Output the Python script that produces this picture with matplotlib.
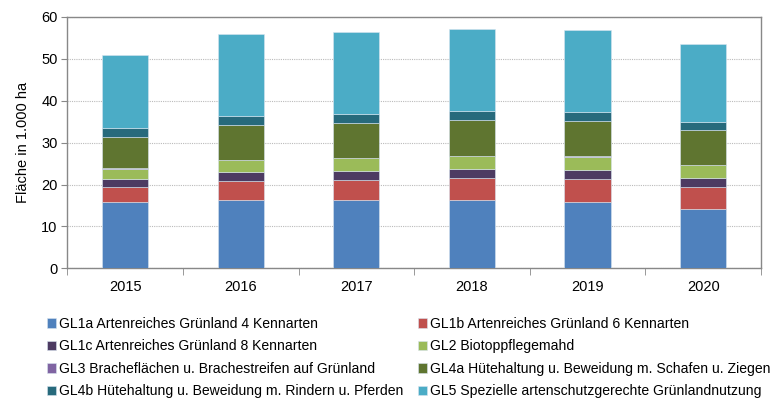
import numpy as np
import matplotlib
matplotlib.use("Agg")
import matplotlib.pyplot as plt

plt.rcParams['font.family'] = ['Liberation Sans', 'DejaVu Sans']

jahre = ["2015", "2016", "2017", "2018", "2019", "2020"]

namen = [
    "GL1a Artenreiches Grünland 4 Kennarten",
    "GL1b Artenreiches Grünland 6 Kennarten",
    "GL1c Artenreiches Grünland 8 Kennarten",
    "GL2 Biotoppflegemahd",
    "GL3 Bracheflächen u. Brachestreifen auf Grünland",
    "GL4a Hütehaltung u. Beweidung m. Schafen u. Ziegen",
    "GL4b Hütehaltung u. Beweidung m. Rindern u. Pferden",
    "GL5 Spezielle artenschutzgerechte Grünlandnutzung",
]

gl1a = [15.9, 16.4, 16.4, 16.4, 15.95, 14.2]
gl1b = [3.6, 4.5, 4.8, 5.27, 5.3, 5.1]
gl1c = [1.8, 2.0, 2.05, 2.13, 2.3, 2.37]
gl2 = [2.45, 2.9, 3.0, 2.95, 3.1, 2.95]
gl3 = [0.15, 0.15, 0.15, 0.15, 0.15, 0.15]
gl4a = [7.45, 8.25, 8.2, 8.4, 8.45, 8.23]
gl4b = [2.15, 2.2, 2.2, 2.16, 2.05, 1.84]
gl5 = [17.45, 19.4, 19.6, 19.6, 19.6, 18.66]

farben = ["#4F81BD", "#C0504D", "#4D3B62", "#9BBB59",
          "#8064A2", "#5F7530", "#276A7C", "#4BACC6"]

serien = [gl1a, gl1b, gl1c, gl2, gl3, gl4a, gl4b, gl5]

fig = plt.figure(figsize=(7.8, 4.0), dpi=100)
ax = fig.add_axes([0.0863, 0.329, 0.8893, 0.629])

x = np.arange(len(jahre))
unten = np.zeros(len(jahre))
handles = []
for werte, farbe, name in zip(serien, farben, namen):
    b = ax.bar(x, werte, width=0.4, bottom=unten, color=farbe,
               edgecolor="#d8e4ef", linewidth=0.4, label=name, zorder=3)
    handles.append(b)
    unten += np.array(werte)

ax.set_xlim(-0.5, len(jahre) - 0.5)
ax.set_ylim(0, 60)
ax.set_yticks(range(0, 61, 10))
ax.set_xticks(x)
ax.set_xticklabels(jahre, fontsize=10.5)
ax.set_xticks(np.arange(-0.5, len(jahre), 1), minor=True)
ax.tick_params(axis="x", which="major", length=0, pad=8)
ax.tick_params(axis="x", which="minor", length=5, color="#888888", direction="out")
ax.tick_params(axis="y", length=4, color="#888888", labelsize=10.5, pad=3)
ax.grid(axis="y", color="#bbbbbb", linestyle=(0, (1, 1)), linewidth=0.8, zorder=0)
for s in ax.spines.values():
    s.set_color("#888888")
    s.set_linewidth(1.0)
ax.set_ylabel("Fläche in 1.000 ha", fontsize=10.5, labelpad=8)

# zeilenweise Reihenfolge fuer 2 Spalten
reihenfolge = [0, 2, 4, 6, 1, 3, 5, 7]
fig.legend([handles[i] for i in reihenfolge], [namen[i] for i in reihenfolge],
           ncol=2, loc="upper left", bbox_to_anchor=(0.060, 0.2075),
           frameon=False, fontsize=10.1, handlelength=0.65, handleheight=0.65,
           handletextpad=0.2, columnspacing=1.05, labelspacing=0.6,
           borderaxespad=0, borderpad=0)

fig.savefig("out.png", dpi=100)
